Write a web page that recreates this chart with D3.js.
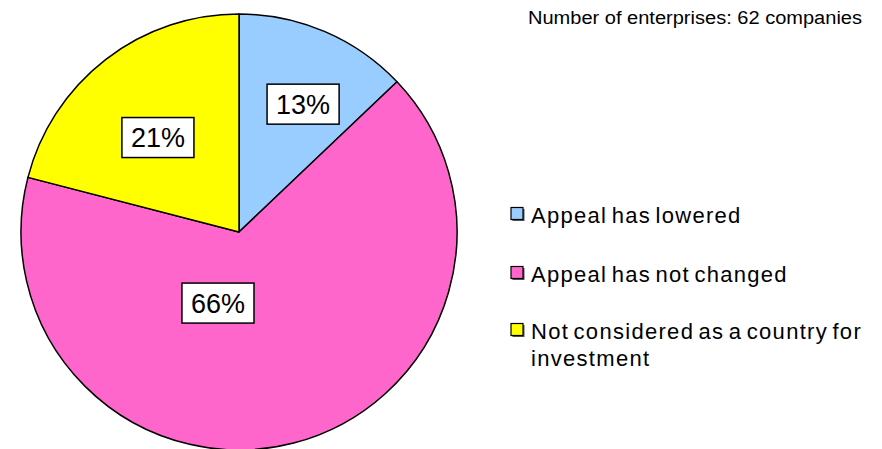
<!DOCTYPE html>
<html lang="en">

<head>
    <meta charset="UTF-8">
    <title>Chart</title>
    <script src="https://cdn.jsdelivr.net/npm/d3@7"></script>
    <style>
        body { margin: 0; background: #fff; }
    </style>
</head>

<body>
    <script>
        // data (62 companies in total)
        let categories = ['Appeal has lowered', 'Appeal has not changed', 'Not considered as a country for investment'];
        let counts = [8, 41, 13];
        let percentLabels = ['13%', '66%', '21%'];
        let title = 'Number of enterprises: 62 companies';

        let colors = ['#99ccff', '#ff66cc', '#ffff00'];
        // where Excel put each label: radius as share of the pie radius, and a shift in degrees
        let labelPlace = [{ r: 0.656, shift: 3.4 }, { r: 0.34, shift: 31 }, { r: 0.571, shift: -2.9 }];

        let width = 882,
            height = 449,
            cx = 239,
            cy = 232,
            radius = 218;

        let svg = d3.select('body').append('svg').attr('width', width).attr('height', height);

        let pie = d3.pie().sort(null).value(d => d);
        let arcs = pie(counts);
        let arc = d3.arc().innerRadius(0).outerRadius(radius);

        let g = svg.append('g').attr('transform', `translate(${cx},${cy})`);
        g.selectAll('path')
            .data(arcs)
            .enter()
            .append('path')
            .attr('d', arc)
            .attr('fill', (d, i) => colors[i])
            .attr('stroke', '#000')
            .attr('stroke-width', 1.5)
            .attr('stroke-linejoin', 'round');

        // labels in white boxes
        arcs.forEach((d, i) => {
            let a = (d.startAngle + d.endAngle) / 2 + labelPlace[i].shift * Math.PI / 180;
            let rr = radius * labelPlace[i].r;
            let x = Math.sin(a) * rr,
                y = -Math.cos(a) * rr;
            let lg = g.append('g').attr('transform', `translate(${x},${y})`);
            let box = lg.append('rect');
            let t = lg.append('text')
                .attr('text-anchor', 'middle')
                .attr('y', 9.5)
                .style('font-family', 'Arial, "Liberation Sans", sans-serif')
                .style('font-size', '27px')
                .attr('fill', '#000')
                .text(percentLabels[i]);
            let w = t.node().getBBox().width + 18;
            box.attr('x', -w / 2).attr('y', -20).attr('width', w).attr('height', 40)
                .attr('fill', '#fff').attr('stroke', '#000').attr('stroke-width', 1.5);
        });

        // title top right
        svg.append('text')
            .attr('x', 528)
            .attr('y', 23.5)
            .attr('textLength', 334)
            .attr('lengthAdjust', 'spacingAndGlyphs')
            .style('font-family', '"Liberation Sans Narrow", "Arial Narrow", Arial, sans-serif')
            .style('font-size', '18px')
            .attr('fill', '#000')
            .text(title);

        // legend
        let legendX = 511,
            legendY = [222.5, 281.5, 338.5],
            lineGap = 27;
        let wraps = [[categories[0]], [categories[1]], ['Not considered as a country for', 'investment']];
        let legend = svg.append('g');
        categories.forEach((c, i) => {
            legend.append('rect')
                .attr('x', legendX + 1.5)
                .attr('y', legendY[i] - 13.5)
                .attr('width', 12)
                .attr('height', 12)
                .attr('fill', '#555');
            legend.append('rect')
                .attr('x', legendX)
                .attr('y', legendY[i] - 15)
                .attr('width', 12)
                .attr('height', 12)
                .attr('fill', colors[i])
                .attr('stroke', '#000')
                .attr('stroke-width', 1.2);
            let t = legend.append('text')
                .attr('x', legendX + 20)
                .attr('y', legendY[i])
                .style('font-family', 'Arial, "Liberation Sans", sans-serif')
                .style('font-size', '22px')
                .style('letter-spacing', '1.3px')
                .style('word-spacing', '-3px')
                .attr('fill', '#000');
            wraps[i].forEach((line, j) => {
                t.append('tspan')
                    .attr('x', legendX + 20)
                    .attr('y', legendY[i] + j * lineGap)
                    .text(line);
            });
        });
    </script>
</body>

</html>
